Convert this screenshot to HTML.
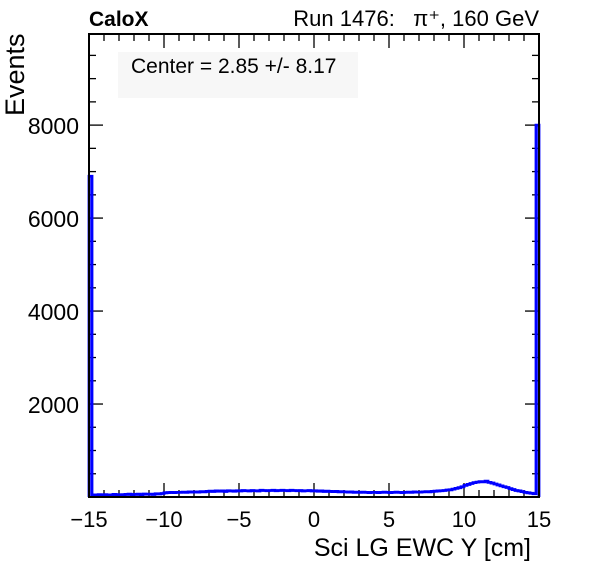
<!DOCTYPE html>
<html><head><meta charset="utf-8"><style>
html,body{margin:0;padding:0;background:#fff;}
svg text{font-family:"Liberation Sans",sans-serif;white-space:pre;}
</style></head><body>
<svg id="chart" width="596" height="572" xmlns="http://www.w3.org/2000/svg">
<rect x="0" y="0" width="596" height="572" fill="#fff"/>
<text x="89" y="26" font-size="21" font-weight="bold">CaloX</text>
<text x="539" y="26" font-size="22" text-anchor="end" xml:space="preserve">Run 1476:   π⁺, 160 GeV</text>
<rect x="118" y="52" width="240" height="46" fill="#f7f7f7"/>
<text x="131" y="73" font-size="21">Center = 2.85 +/- 8.17</text>
<g id="axes"></g>
<path id="hist" fill="none" stroke="#0000ff" stroke-width="2.8"/>
<rect x="89" y="34" width="450" height="463" fill="none" stroke="#000" stroke-width="2"/>
<text transform="translate(24,116) rotate(-90)" font-size="27">Events</text>
<text x="531" y="556" font-size="25" text-anchor="end">Sci LG EWC Y [cm]</text>
</svg>
<script>
const xMin = -15, xMax = 15, yMin = 0, yMax = 9960;
const xTicks = [-15, -10, -5, 0, 5, 10, 15];
const xTickLabels = ["−15", "−10", "−5", "0", "5", "10", "15"];
const yTicks = [2000, 4000, 6000, 8000];
const yTickLabels = ["2000", "4000", "6000", "8000"];
const binWidth = 0.2;
const counts = [
6900,45,40,50,45, 50,40,45,55,50, 45,50,55,60,50, 55,60,50,65,60, 60,55,70,65,75,
90,95,100,95,100, 100,105,100,110,105, 110,105,115,110,120, 125,120,130,125,130, 120,135,130,125,135,
130,140,135,130,140, 135,130,145,140,135, 140,145,135,140,145, 140,135,145,140,135, 140,130,135,140,130,
135,125,130,120,125, 120,115,120,110,115, 110,105,110,100,105, 100,105,100,95,100, 100,95,100,105,100,
95,100,105,100,95, 100,105,100,110,105, 105,110,115,110,120, 125,130,135,140,150, 155,170,185,200,220,
250,270,290,310,320, 330,325,340,315,300, 280,260,240,220,205, 180,160,140,130,115, 100,90,80,70,8000
];
const L=89,R=539,T=34,B=497;
const sx=v=>L+(v-xMin)/(xMax-xMin)*(R-L);
const sy=v=>B-(v-yMin)/(yMax-yMin)*(B-T);
const NS="http://www.w3.org/2000/svg";
const axes=document.getElementById('axes');
function line(x1,y1,x2,y2,name){const l=document.createElementNS(NS,'line');l.setAttribute('x1',x1);l.setAttribute('y1',y1);l.setAttribute('x2',x2);l.setAttribute('y2',y2);l.setAttribute('stroke','#000');l.setAttribute('stroke-width','1.3');


axes.appendChild(l);}
function text(x,y,s,anchor,name,size){const t=document.createElementNS(NS,'text');t.setAttribute('x',x);t.setAttribute('y',y);t.setAttribute('font-size',size);t.setAttribute('text-anchor',anchor);t.textContent=s;


axes.appendChild(t);}
for(let v=xMin;v<=xMax;v+=1){const major=(v%5===0);const len=major?14:7;const x=sx(v);
line(x,B,x,B-len,'x-tick');line(x,T,x,T+len,'x-tick-top');}
xTicks.forEach((v,i)=>text(sx(v),527,xTickLabels[i],'middle','x-tick-label','22'));
for(let v=500;v<=yMax;v+=500){const major=(v%2000===0);const len=major?14:7;const y=sy(v);
line(L,y,L+len,y,'y-tick');line(R,y,R-len,y,'y-tick-right');}
yTicks.forEach((v,i)=>text(79,sy(v)+9,yTickLabels[i],'end','y-tick-label','23'));
let d='M'+sx(xMin)+','+sy(0);
counts.forEach((c,i)=>{const x0=sx(xMin+i*binWidth),x1=sx(xMin+(i+1)*binWidth);d+=' L'+x0+','+sy(c)+' L'+x1+','+sy(c);});
d+=' L'+sx(xMax)+','+sy(0);
document.getElementById('hist').setAttribute('d',d);
</script>
</body></html>
